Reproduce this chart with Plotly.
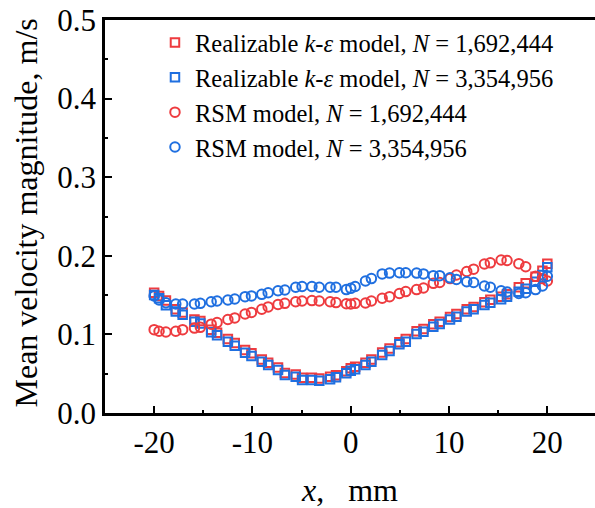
import plotly.graph_objects as go

# x positions (mm)
x_pos = [-20.0, -19.5, -18.8, -17.8, -17.1, -15.9, -15.3, -14.2, -13.6, -12.5, -11.8,
         -10.75, -10.1, -9.05, -8.4, -7.4, -6.7, -5.6, -4.95, -3.95, -3.2, -2.1, -1.5,
         -0.45, 0.0, 0.45, 1.5, 2.1, 3.2, 3.95, 4.95, 5.6, 6.7, 7.4, 8.4, 9.05, 10.1,
         10.75, 11.8, 12.5, 13.6, 14.2, 15.3, 15.9, 17.1, 17.8, 18.8, 19.5, 20.0]

# Realizable k-eps, N = 3,354,956 (blue squares)
rke_fine = [0.150, 0.146, 0.137, 0.129, 0.125, 0.116, 0.114, 0.1026, 0.099, 0.0907, 0.0857,
            0.0767, 0.0725, 0.0653, 0.061, 0.0547, 0.0483, 0.0462, 0.042, 0.042, 0.0411,
            0.0429, 0.0454, 0.0505, 0.0538, 0.0556, 0.061, 0.0653, 0.0738, 0.079, 0.0875,
            0.0907, 0.1005, 0.1035, 0.1098, 0.1132, 0.119, 0.1225, 0.129, 0.132, 0.1374,
            0.1403, 0.1446, 0.148, 0.1543, 0.158, 0.167, 0.1756, 0.1853]

# Realizable k-eps, N = 1,692,444 (red squares)
rke_coarse = [0.153, 0.149, 0.143, 0.132, 0.128, 0.119, 0.117, 0.106, 0.102, 0.094, 0.089,
              0.080, 0.076, 0.068, 0.064, 0.058, 0.051, 0.049, 0.045, 0.045, 0.044,
              0.046, 0.048, 0.053, 0.057, 0.059, 0.064, 0.068, 0.077, 0.082, 0.090,
              0.094, 0.104, 0.107, 0.113, 0.116, 0.122, 0.126, 0.132, 0.135, 0.141,
              0.144, 0.148, 0.151, 0.160, 0.165, 0.1735, 0.181, 0.190]

# RSM, N = 1,692,444 (red circles)
rsm_coarse = [0.106, 0.104, 0.103, 0.104, 0.106, 0.108, 0.109, 0.113, 0.115, 0.119, 0.121,
              0.126, 0.128, 0.132, 0.135, 0.138, 0.1395, 0.1415, 0.1425, 0.143, 0.1425,
              0.1415, 0.1405, 0.139, 0.1387, 0.1395, 0.140, 0.1425, 0.146, 0.148, 0.152,
              0.1545, 0.157, 0.159, 0.165, 0.166, 0.171, 0.1756, 0.180, 0.183, 0.1896,
              0.191, 0.1947, 0.194, 0.190, 0.186, 0.174, 0.171, 0.168]

# RSM, N = 3,354,956 (blue circles)
rsm_fine = [0.149, 0.1438, 0.1403, 0.1387, 0.1387, 0.1387, 0.1395, 0.1416, 0.1425, 0.1438,
            0.145, 0.148, 0.149, 0.151, 0.153, 0.1556, 0.1565, 0.160, 0.161, 0.161, 0.160,
            0.160, 0.160, 0.157, 0.1586, 0.161, 0.168, 0.171, 0.177, 0.178, 0.1785, 0.1785,
            0.178, 0.177, 0.1747, 0.1747, 0.172, 0.170, 0.167, 0.166, 0.1616, 0.160,
            0.1556, 0.154, 0.152, 0.153, 0.157, 0.1616, 0.174]

x_ticks = [-20, -10, 0, 10, 20]
x_ticklabels = ["-20", "-10", "0", "10", "20"]
y_ticks = [0.0, 0.1, 0.2, 0.3, 0.4, 0.5]

RED = "#EE3B3F"
BLUE = "#1F6FE0"
FONT = "Liberation Serif"

series = [
    ("Realizable <i>k</i>-<i>ε</i> model, <i>N</i> = 1,692,444", rke_coarse, "square-open", RED, 8.5),
    ("Realizable <i>k</i>-<i>ε</i> model, <i>N</i> = 3,354,956", rke_fine, "square-open", BLUE, 8.5),
    ("RSM model, <i>N</i> = 1,692,444", rsm_coarse, "circle-open", RED, 9.5),
    ("RSM model, <i>N</i> = 3,354,956", rsm_fine, "circle-open", BLUE, 9.5),
]

fig = go.Figure()
for name, ys, sym, col, sz in series:
    fig.add_trace(go.Scatter(
        x=x_pos, y=ys, mode="markers", name=name,
        marker=dict(symbol=sym, size=sz, color=col, line=dict(color=col, width=2)),
    ))

axis_common = dict(
    showline=True, linecolor="black", linewidth=2.5,
    ticks="inside", ticklen=7, tickwidth=2, tickcolor="black",
    showgrid=False, zeroline=False,
    tickfont=dict(family=FONT, size=31, color="black"),
)

fig.update_xaxes(
    range=[-25, 24.85], tickmode="array", tickvals=x_ticks, ticktext=x_ticklabels,
    mirror=True,
    minor=dict(tickmode="linear", tick0=-15, dtick=10, ticks="inside", ticklen=3,
               tickwidth=2, tickcolor="black"),
    title=dict(text="<i>x</i>,\u00a0\u00a0\u00a0mm", font=dict(family=FONT, size=32, color="black"),
               standoff=20),
    **axis_common,
)
fig.update_yaxes(
    range=[0, 0.5], tickmode="array", tickvals=y_ticks, tickformat=".1f",
    minor=dict(tickmode="linear", tick0=0.05, dtick=0.1, ticks="inside", ticklen=3,
               tickwidth=2, tickcolor="black"),
    **axis_common,
)

fig.add_annotation(
    text="Mean velocity magnitude, m/s", textangle=-90,
    xref="paper", yref="paper", x=0, y=0.5, xanchor="center", yanchor="middle",
    xshift=-80, yshift=3, showarrow=False,
    font=dict(family=FONT, size=32, color="black"),
)

fig.update_layout(
    width=595, height=508,
    margin=dict(l=105, r=0, t=20, b=95),
    plot_bgcolor="white", paper_bgcolor="white",
    font=dict(family=FONT, color="black"),
    legend=dict(x=0.102, y=1.0, xanchor="left", yanchor="top",
                font=dict(family=FONT, size=24.5, color="black"),
                bgcolor="rgba(0,0,0,0)", tracegroupgap=0, itemwidth=30),
    showlegend=True,
)

fig.write_html("out.html")
